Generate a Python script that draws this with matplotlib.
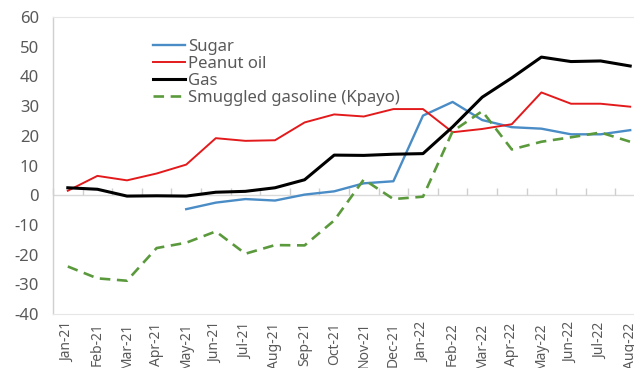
import numpy as np
import matplotlib
matplotlib.use("Agg")
import matplotlib.pyplot as plt

plt.rcParams['font.family'] = ['Noto Sans', 'DejaVu Sans']
plt.rcParams['axes.unicode_minus'] = False

months = ["Jan-21", "Feb-21", "Mar-21", "Apr-21", "May-21", "Jun-21", "Jul-21",
          "Aug-21", "Sep-21", "Oct-21", "Nov-21", "Dec-21", "Jan-22", "Feb-22",
          "Mar-22", "Apr-22", "May-22", "Jun-22", "Jul-22", "Aug-22"]

sugar = [np.nan, np.nan, np.nan, np.nan, -4.7, -2.5, -1.3, -1.8, 0.2, 1.3,
         4.0, 4.7, 26.8, 31.4, 25.3, 22.9, 22.4, 20.5, 20.5, 21.9]
peanut_oil = [1.5, 6.5, 5.0, 7.3, 10.3, 19.2, 18.3, 18.5, 24.5, 27.2,
              26.5, 29.0, 29.0, 21.2, 22.3, 23.9, 34.6, 30.8, 30.8, 29.8]
gas = [2.5, 2.0, -0.3, -0.2, -0.3, 1.0, 1.3, 2.5, 5.2, 13.5,
       13.4, 13.8, 14.0, 23.0, 33.0, 39.5, 46.5, 45.0, 45.2, 43.5]
kpayo = [-24.0, -28.0, -28.8, -17.8, -16.0, -12.2, -19.7, -16.8, -16.9, -8.5,
         5.3, -1.3, -0.5, 21.5, 28.3, 15.4, 18.0, 19.5, 21.1, 18.0]

grey = "#595959"
x = np.arange(len(months))

fig = plt.figure(figsize=(6.34, 3.68), dpi=100)
ax = fig.add_axes([53 / 634, 1 - 314 / 368, 592 / 634, 297 / 368])

ax.plot(x, sugar, color="#4a8cc6", lw=1.7, label="Sugar")
ax.plot(x, peanut_oil, color="#e31a1c", lw=1.4, label="Peanut oil")
ax.plot(x, gas, color="#000000", lw=2.2, label="Gas")
ax.plot(x, kpayo, color="#5b9a3c", lw=1.9, ls=(0, (4, 2.5)),
        label="Smuggled gasoline (Kpayo)")

ax.set_xlim(-0.5, len(months) - 0.5)
ax.set_ylim(-40, 60)
ax.set_yticks(range(-40, 61, 10))
ax.set_xticks(x)
ax.set_xticklabels(months, rotation=90)
ax.tick_params(axis="x", length=0, pad=6, labelsize=10, labelcolor=grey)
ax.tick_params(axis="y", length=0, pad=10, labelsize=12, labelcolor=grey)

for side in ["top", "right", "bottom"]:
    ax.spines[side].set_color("#e6e6e6")
    ax.spines[side].set_linewidth(0.8)
ax.spines["left"].set_color("#d0d0d0")
ax.spines["left"].set_linewidth(1.0)

# category axis crossing at zero, with tick marks between months
ax.axhline(0, color="#d9d9d9", lw=1.0, zorder=0)
zero_axis = ax.secondary_xaxis(0.4)
zero_axis.set_xticks(np.arange(-0.5, len(months), 1.0))
zero_axis.tick_params(direction="in", length=5, width=1.0, color="#cfcfcf",
                      labelbottom=False)
zero_axis.spines["bottom"].set_visible(False)

leg = ax.legend(loc="upper left", bbox_to_anchor=(0.155, 0.955), frameon=False,
                fontsize=12, handlelength=1.9, handletextpad=0.2,
                labelspacing=0.06, borderpad=0)
for t in leg.get_texts():
    t.set_color(grey)

fig.savefig("out.png", dpi=100)
